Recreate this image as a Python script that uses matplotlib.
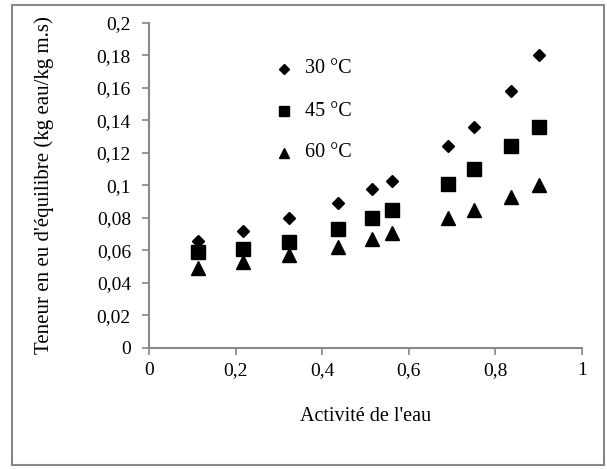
import numpy as np
import matplotlib.pyplot as plt
from matplotlib.patches import Rectangle
from matplotlib.ticker import FuncFormatter

# Data
aw = [0.114, 0.218, 0.324, 0.436, 0.515, 0.562, 0.691, 0.751, 0.837, 0.900]
x_30 = [0.066, 0.072, 0.080, 0.089, 0.098, 0.103, 0.124, 0.136, 0.158, 0.180]
x_45 = [0.059, 0.061, 0.065, 0.073, 0.080, 0.085, 0.101, 0.110, 0.124, 0.136]
x_60 = [0.049, 0.053, 0.057, 0.062, 0.067, 0.071, 0.080, 0.085, 0.093, 0.100]
labels = ['30 °C', '45 °C', '60 °C']

plt.rcParams['font.family'] = ['Liberation Serif', 'DejaVu Serif']
grey = '#888888'

fig = plt.figure(figsize=(6.07, 4.69), dpi=100)
ax = fig.add_axes([0.2455, 0.258, 0.7133, 0.693])

ax.plot(aw, x_30, 'D', color='black', ms=6.5, linestyle='none')
ax.plot(aw, x_45, 's', color='black', ms=9.5, linestyle='none')
ax.plot(aw, x_60, '^', color='black', ms=9.5, linestyle='none')

ax.set_xlim(0, 1)
ax.set_ylim(0, 0.2)
ax.set_xticks(np.arange(0, 1.01, 0.2))
ax.set_yticks(np.arange(0, 0.201, 0.02))
fmt = FuncFormatter(lambda v, p: ('%g' % round(v, 3)).replace('.', ','))
ax.xaxis.set_major_formatter(fmt)
ax.yaxis.set_major_formatter(fmt)
ax.tick_params(labelsize=14, color=grey, length=5, width=1.2, direction='out')
for s in ['top', 'right']:
    ax.spines[s].set_visible(False)
for s in ['left', 'bottom']:
    ax.spines[s].set_color(grey)
    ax.spines[s].set_linewidth(1.5)
ax.xaxis.set_tick_params(pad=5)
ax.yaxis.set_tick_params(pad=8)

ax.set_xlabel("Activité de l'eau", fontsize=14.5, labelpad=20)
ax.set_ylabel("Teneur en eu d'équilibre (kg eau/kg m.s)", fontsize=15, labelpad=31)

# in-plot legend
markers = ['D', 's', '^']
sizes = [5.5, 7.5, 7.5]
ly = [0.1717, 0.1458, 0.120]
for m, s, lab, yy in zip(markers, sizes, labels, ly):
    ax.plot([0.312], [yy], m, color='black', ms=s)
    ax.text(0.36, yy, lab, fontsize=14.5, va='center', ha='left')

fig.patches.append(Rectangle((0.02, 0.008), 0.975, 0.982, transform=fig.transFigure,
                             fill=False, edgecolor=grey, linewidth=1.5))

fig.savefig('out.png', dpi=100)
